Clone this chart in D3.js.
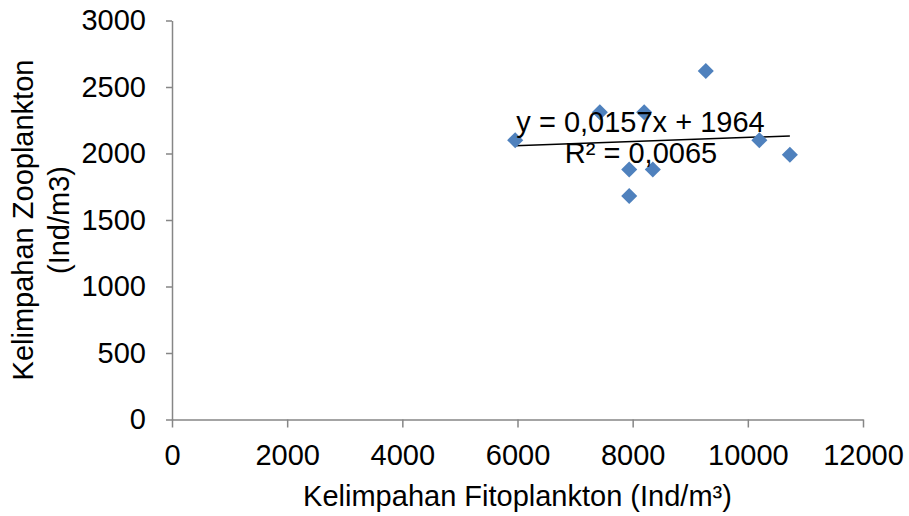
<!DOCTYPE html>
<html>
<head>
<meta charset="UTF-8">
<script src="https://d3js.org/d3.v7.min.js"></script>
<style>
body { margin: 0; background: #fff; }
svg text { font-family: "Liberation Sans", Arial, sans-serif; fill: #000; }
.axis path, .axis line { stroke: #868686; stroke-width: 1.5; }
</style>
</head>
<body>
<svg id="chart" width="909" height="516"></svg>
<script>
// data
var fito = [5960, 7430, 8200, 9270, 10200, 10730, 7940, 8350, 7940];
var zoo  = [2100, 2310, 2310, 2620, 2100, 1990, 1880, 1880, 1680];
var xTicks = [0, 2000, 4000, 6000, 8000, 10000, 12000];
var yTicks = [0, 500, 1000, 1500, 2000, 2500, 3000];
var slope = 0.0157, intercept = 1964;
var eqText = "y = 0,0157x + 1964";
var r2Text = "R² = 0,0065";

var fs = "29px";

var svg = d3.select("#chart"),
	margin = {top: 20.5, left: 172, bottom: 96.5, right: 46},
	width = +svg.attr("width") - margin.left - margin.right,
	height = +svg.attr("height") - margin.top - margin.bottom;

var g = svg.append("g").attr("transform", `translate(${margin.left},${margin.top})`);

var x = d3.scaleLinear().domain([0, 12000]).range([0, width]);
var y = d3.scaleLinear().domain([0, 3000]).range([height, 0]);

// ejes
g.append("g")
	.attr("class", "axis")
	.call(d3.axisLeft(y).tickValues(yTicks).tickSize(6).tickSizeOuter(0).tickPadding(20).tickFormat(d3.format("d")))
	.selectAll("text").style("font-size", fs);

g.append("g")
	.attr("class", "axis")
	.attr("transform", `translate(0,${height})`)
	.call(d3.axisBottom(x).tickValues(xTicks).tickSize(8).tickSizeOuter(0).tickPadding(17).tickFormat(d3.format("d")))
	.selectAll("text").style("font-size", fs);

// linea de tendencia
var x0 = d3.min(fito), x1 = d3.max(fito);
g.append("line")
	.attr("x1", x(x0)).attr("y1", y(slope * x0 + intercept))
	.attr("x2", x(x1)).attr("y2", y(slope * x1 + intercept))
	.attr("stroke", "#000").attr("stroke-width", 1.5);

// puntos
var pts = fito.map((d, i) => ({fx: d, zy: zoo[i]}));
g.selectAll("path.pt")
	.data(pts)
	.enter().append("path")
	.attr("class", "pt")
	.attr("d", d3.symbol().type(d3.symbolDiamond2).size(165))
	.attr("transform", d => `translate(${x(d.fx)},${y(d.zy)})`)
	.attr("fill", "#4F81BD");

// ecuacion
g.append("text")
	.attr("x", 468.5).attr("y", 111.2)
	.attr("text-anchor", "middle")
	.style("font-size", fs)
	.text(eqText);
g.append("text")
	.attr("x", 469).attr("y", 142.8)
	.attr("text-anchor", "middle")
	.style("font-size", fs)
	.text(r2Text);

// titulos
svg.append("text")
	.attr("x", margin.left + width / 2).attr("y", 506)
	.attr("text-anchor", "middle")
	.style("font-size", fs)
	.text("Kelimpahan Fitoplankton (Ind/m³)");

var yt = svg.append("text")
	.attr("transform", `translate(33,${margin.top + height / 2}) rotate(-90)`)
	.attr("text-anchor", "middle")
	.style("font-size", fs);
yt.append("tspan").attr("x", 0).attr("y", 0).text("Kelimpahan Zooplankton");
yt.append("tspan").attr("x", 0).attr("y", 36).text("(Ind/m3)");
</script>
</body>
</html>
